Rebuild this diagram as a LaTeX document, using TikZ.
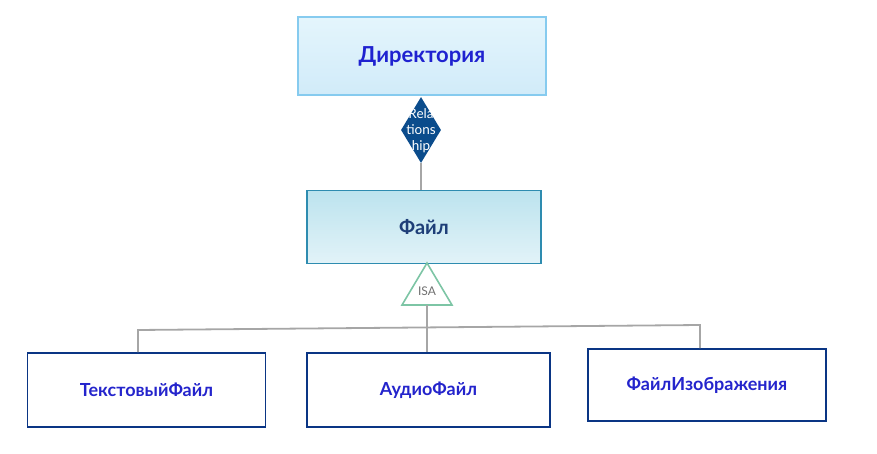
\documentclass[tikz,border=0pt]{standalone}
\usepackage{fontspec}
\setmainfont{Lato}
\usetikzlibrary{shapes.geometric}

\definecolor{dirtop}{HTML}{E4F5FC}
\definecolor{dirbot}{HTML}{D1EBF9}
\definecolor{dirline}{HTML}{86CBEF}
\definecolor{dirtext}{HTML}{1F22D0}
\definecolor{filetop}{HTML}{BCE3EE}
\definecolor{filebot}{HTML}{E2F3F8}
\definecolor{fileline}{HTML}{2E8CB0}
\definecolor{filetext}{HTML}{1E3E78}
\definecolor{reldark}{HTML}{0B4C8C}
\definecolor{isaline}{HTML}{7DC5A5}
\definecolor{isatext}{HTML}{707070}
\definecolor{boxline}{HTML}{0A3584}
\definecolor{boxtext}{HTML}{2424CC}
\definecolor{link}{HTML}{A6A6A6}

\tikzset{
  entity/.style={draw=boxline, line width=1.8pt, fill=white, inner sep=0pt,
    minimum width=238pt, minimum height=74pt,
    font=\fontsize{18}{21}\selectfont\bfseries, text=boxtext},
  link/.style={draw=link, line width=1.8pt}
}

\begin{document}
\begin{tikzpicture}[x=1pt,y=-1pt]
  \useasboundingbox (0,0) rectangle (877,454);
  % top entity
  \node[draw=dirline, line width=1.6pt, top color=dirtop, bottom color=dirbot,
        minimum width=248pt, minimum height=78pt, inner sep=0pt,
        font=\fontsize{22}{26}\selectfont\bfseries, text=dirtext]
        (dir) at (422,56) {Директория};
  % relationship diamond
  \node[diamond, fill=reldark, minimum width=40pt, minimum height=66pt,
        inner sep=0pt] (rel) at (421,130) {};
  \node[align=center, text=white, font=\fontsize{13.5}{16}\selectfont]
        (reltext) at (421,131) {Rela\\tions\\hip};
  % middle entity
  \node[draw=fileline, line width=1.6pt, top color=filetop, bottom color=filebot,
        minimum width=234pt, minimum height=73pt, inner sep=0pt,
        font=\fontsize{20}{24}\selectfont\bfseries, text=filetext]
        (file) at (424,227) {Файл};
  \draw[link] (rel.south) -- (rel.south |- file.north);
  % ISA triangle
  \coordinate (isatop) at (427,263);
  \coordinate (isaleft) at (402,305);
  \coordinate (isaright) at (452,305);
  \coordinate (isabase) at (427,305);
  \draw[isaline, line width=1.6pt, fill=white] (isatop) -- (isaleft) -- (isaright) -- cycle;
  \node[text=isatext, font=\fontsize{12}{14}\selectfont] (isa) at (427,291) {ISA};
  % sub entities
  \node[entity] (text) at (146.5,390) {ТекстовыйФайл};
  \node[entity, minimum width=243pt] (audio) at (428.5,390) {АудиоФайл};
  \node[entity, minimum height=72pt] (image) at (707,385) {ФайлИзображения};
  % connectors
  \coordinate (barleft) at (138,330);
  \coordinate (barright) at (700,325);
  \draw[link] (isabase) -- (isabase |- audio.north);
  \draw[link] (text.north -| barleft) -- (barleft) -- (barright) -- (image.north -| barright);
\end{tikzpicture}
\end{document}
